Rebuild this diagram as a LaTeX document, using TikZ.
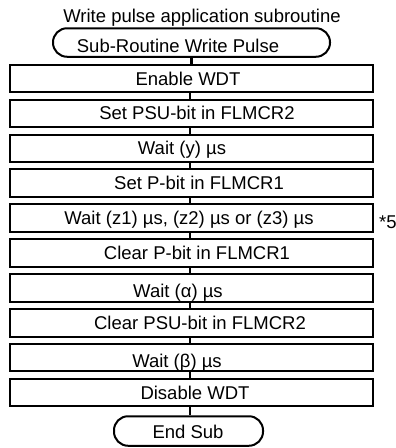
\documentclass[tikz,border=0pt]{standalone}
\usepackage{fontspec}
\setmainfont{Liberation Sans}
\begin{document}
\begin{tikzpicture}[x=1pt,y=-1pt,
  stepbox/.style={draw, line width=2pt, minimum width=363pt, minimum height=27.5pt, inner sep=0pt},
  term/.style={draw, line width=2pt, rounded corners=14pt, inner sep=0pt},
  lbl/.style={anchor=base, inner sep=0pt, font=\fontsize{18.5}{20}\selectfont},
  conn/.style={line width=2.2pt}]
\useasboundingbox (0,0) rectangle (396,448);
% terminals
\node[term, minimum width=277pt, minimum height=28.5pt] (start) at (191.5,42.5) {};
\node[term, minimum width=149pt, minimum height=29.5pt] (stop) at (188.5,431) {};
% process boxes
\node[stepbox] (b1)  at (191.25,78.5)  {};
\node[stepbox] (b2)  at (191.25,113.4) {};
\node[stepbox] (b3)  at (191.25,148.3) {};
\node[stepbox] (b4)  at (191.25,183.2) {};
\node[stepbox] (b5)  at (191.25,218.1) {};
\node[stepbox] (b6)  at (191.25,253.0) {};
\node[stepbox] (b7)  at (191.25,287.9) {};
\node[stepbox] (b8)  at (191.25,322.8) {};
\node[stepbox] (b9)  at (191.25,357.7) {};
\node[stepbox] (b10) at (191.25,392.6) {};
% texts
\node[lbl] (title) at (202,22) {Write pulse application subroutine};
\node[lbl] (tstart) at (178,52.5) {Sub-Routine Write Pulse};
\node[lbl] (t1)  at (188,85)    {Enable WDT};
\node[lbl] (t2)  at (197,119.9) {Set PSU-bit in FLMCR2};
\node[lbl] (t3)  at (182,154.8) {Wait (y) µs};
\node[lbl] (t4)  at (199,189.7) {Set P-bit in FLMCR1};
\node[lbl] (t5)  at (189,224.6) {Wait (z1) µs, (z2) µs or (z3) µs};
\node[lbl] (t6)  at (197,259.5) {Clear P-bit in FLMCR1};
\node[lbl] (t7)  at (178,297)   {Wait (α) µs};
\node[lbl] (t8)  at (200,329.3) {Clear PSU-bit in FLMCR2};
\node[lbl] (t9)  at (177,367.5) {Wait (β) µs};
\node[lbl] (t10) at (195,399.6) {Disable WDT};
\node[lbl] (tstop) at (188,438) {End Sub};
\node[lbl, anchor=base west] (note) at (379,228) {*5};
% connectors
\draw[conn] (start.south) -- (start.south |- b1.north);
\foreach \a/\b in {b1/b2,b2/b3,b3/b4,b4/b5,b5/b6,b6/b7,b7/b8,b8/b9,b9/b10}
  \draw[conn] ([xshift=-1.25pt]\a.south) -- ([xshift=-1.25pt]\b.north);
\draw[conn] ([xshift=-1.25pt]b10.south) -- ([xshift=-1.25pt]b10.south |- stop.north);
\end{tikzpicture}
\end{document}
